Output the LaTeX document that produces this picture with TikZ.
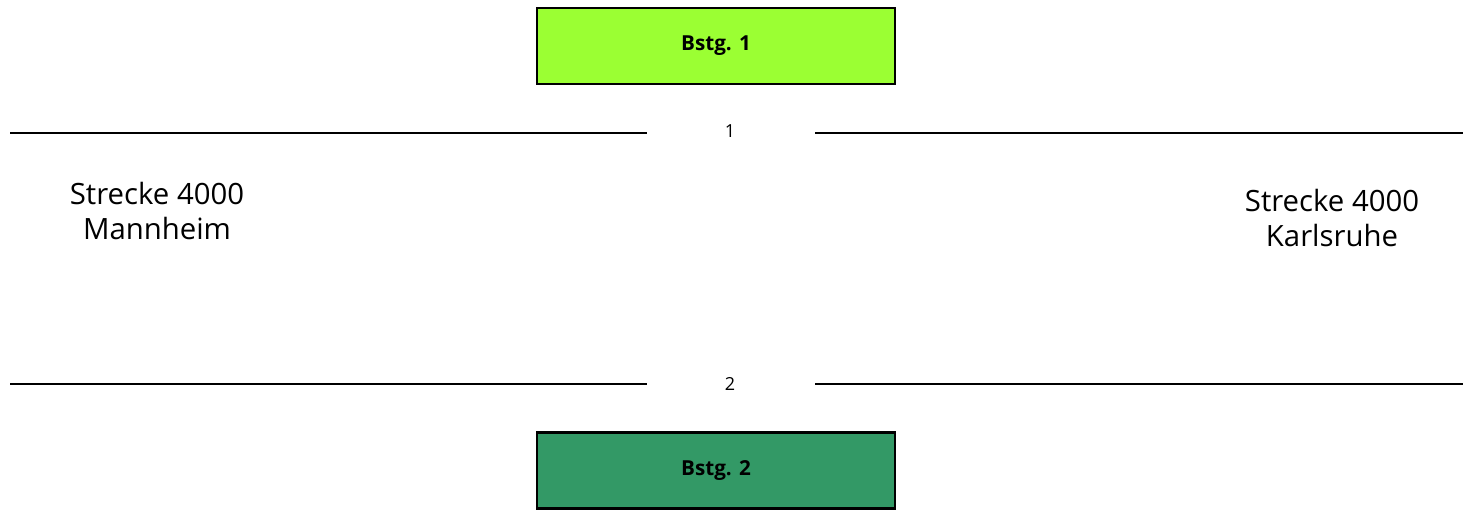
\documentclass[tikz,border=0pt]{standalone}
\usepackage{fontspec}
\setmainfont{Open Sans}
\definecolor{bstgA}{RGB}{155,255,51}
\definecolor{bstgB}{RGB}{51,153,102}
\begin{document}
\begin{tikzpicture}[x=0.75pt,y=-0.75pt,
  bstg/.style={draw=black,line width=2.2pt,minimum width=358*0.75pt,minimum height=76*0.75pt,inner sep=0pt,font=\fontsize{15.5}{18}\selectfont\bfseries},
  track/.style={line width=2.1pt,black},
  tracklabel/.style={font=\fontsize{13.5}{15}\selectfont},
  route/.style={align=center,font=\fontsize{22}{26.5}\selectfont}]
\useasboundingbox (0,0) rectangle (1463,511);
\node[bstg,fill=bstgA] (b1) at (716,46) {Bstg. 1};
\node[bstg,fill=bstgB] (b2) at (716,470.5) {Bstg. 2};
\coordinate (t1a) at (10,133);
\coordinate (t1b) at (647,133);
\coordinate (t1c) at (815,133);
\coordinate (t1d) at (1463,133);
\coordinate (t2a) at (10,384);
\coordinate (t2b) at (647,384);
\coordinate (t2c) at (815,384);
\coordinate (t2d) at (1463,384);
\draw[track] (t1a) -- (t1b);
\draw[track] (t1c) -- (t1d);
\draw[track] (t2a) -- (t2b);
\draw[track] (t2c) -- (t2d);
\node[tracklabel] (l1) at (730,131) {1};
\node[tracklabel] (l2) at (730,384) {2};
\node[route] (rm) at (157,211) {Strecke 4000\\Mannheim};
\node[route] (rk) at (1332,218) {Strecke 4000\\Karlsruhe};
\end{tikzpicture}
\end{document}
